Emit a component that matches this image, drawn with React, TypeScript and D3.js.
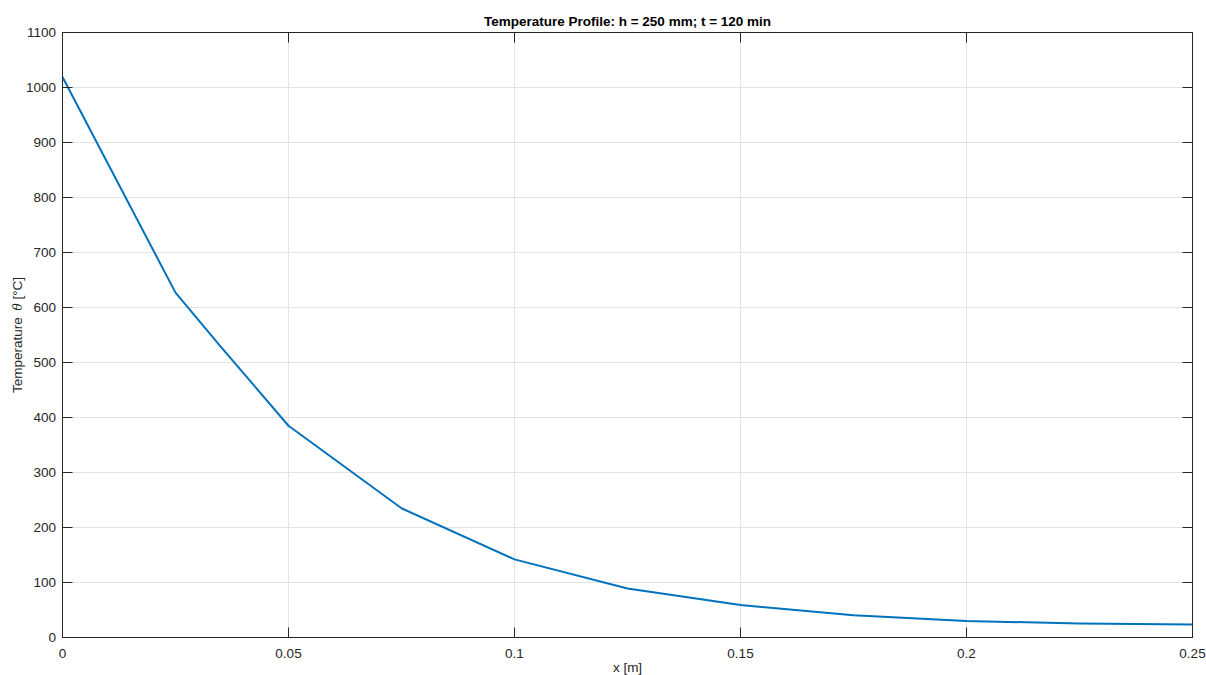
import React from "react";
import * as d3 from "d3";

const xValues = [0, 0.025, 0.035, 0.05, 0.075, 0.1, 0.125, 0.15, 0.175, 0.2, 0.225, 0.25];
const tempValues = [1019, 627, 529, 385, 235, 142, 89, 59, 40.5, 30, 25.4, 23.6];
const xTicks = [0, 0.05, 0.1, 0.15, 0.2, 0.25];
const xTickLabels = ["0", "0.05", "0.1", "0.15", "0.2", "0.25"];
const yTicks = [0, 100, 200, 300, 400, 500, 600, 700, 800, 900, 1000, 1100];

const W = 1206;
const H = 675;
const L = 62.5, R = 1192.5, T = 32.5, B = 637.5;
const FONT = "'Liberation Sans', Arial, Helvetica, sans-serif";
const AX = "#262626";
const FS = 13.5;

export default function App() {
  const x = d3.scaleLinear().domain([0, 0.25]).range([L, R]);
  const y = d3.scaleLinear().domain([0, 1100]).range([B, T]);
  const line = d3
    .line<number>()
    .x((_, i) => x(xValues[i]))
    .y((d) => y(d));
  const pathD = line(tempValues) || "";
  const tickLen = 10;

  return (
    <svg
      width={W}
      height={H}
      style={{ position: "absolute", left: 0, top: 0, background: "#fff" }}
      fontFamily={FONT}
    >
      <rect x={0} y={0} width={W} height={H} fill="#fff" />
      {/* grid */}
      {xTicks.map((t) => (
        <line key={"gx" + t} x1={x(t)} x2={x(t)} y1={T} y2={B} stroke="#e3e3e3" strokeWidth={1} />
      ))}
      {yTicks.map((t) => (
        <line key={"gy" + t} x1={L} x2={R} y1={y(t)} y2={y(t)} stroke="#e3e3e3" strokeWidth={1} />
      ))}
      {/* data line */}
      <path d={pathD} fill="none" stroke="#0072BD" strokeWidth={2} strokeLinejoin="round" />
      {/* box */}
      <rect x={L} y={T} width={R - L} height={B - T} fill="none" stroke={AX} strokeWidth={1} />
      {/* ticks */}
      {xTicks.map((t) => (
        <g key={"tx" + t}>
          <line x1={x(t)} x2={x(t)} y1={B} y2={B - tickLen} stroke={AX} />
          <line x1={x(t)} x2={x(t)} y1={T} y2={T + tickLen} stroke={AX} />
        </g>
      ))}
      {yTicks.map((t) => (
        <g key={"ty" + t}>
          <line x1={L} x2={L + tickLen} y1={y(t)} y2={y(t)} stroke={AX} />
          <line x1={R} x2={R - tickLen} y1={y(t)} y2={y(t)} stroke={AX} />
        </g>
      ))}
      {/* tick labels */}
      {xTicks.map((t, i) => (
        <text key={"lx" + t} x={x(t)} y={658} textAnchor="middle" fontSize={FS} fill={AX}>
          {xTickLabels[i]}
        </text>
      ))}
      {yTicks.map((t) => (
        <text key={"ly" + t} x={56} y={y(t) + 4.5} textAnchor="end" fontSize={FS} fill={AX}>
          {t}
        </text>
      ))}
      {/* title */}
      <text x={(L + R) / 2} y={26} textAnchor="middle" fontSize={FS} fontWeight="bold" fill="#000">
        Temperature Profile: h = 250 mm; t = 120 min
      </text>
      {/* axis labels */}
      <text x={(L + R) / 2} y={672} textAnchor="middle" fontSize={FS} fill={AX}>
        x [m]
      </text>
      <text
        transform={`translate(22, 335) rotate(-90)`}
        textAnchor="middle"
        fontSize={FS}
        fill={AX}
      >
        Temperature{"\u2002"}<tspan fontStyle="italic" fontFamily="'DejaVu Serif', serif" fontSize={12}>θ</tspan> [°C]
      </text>
    </svg>
  );
}
